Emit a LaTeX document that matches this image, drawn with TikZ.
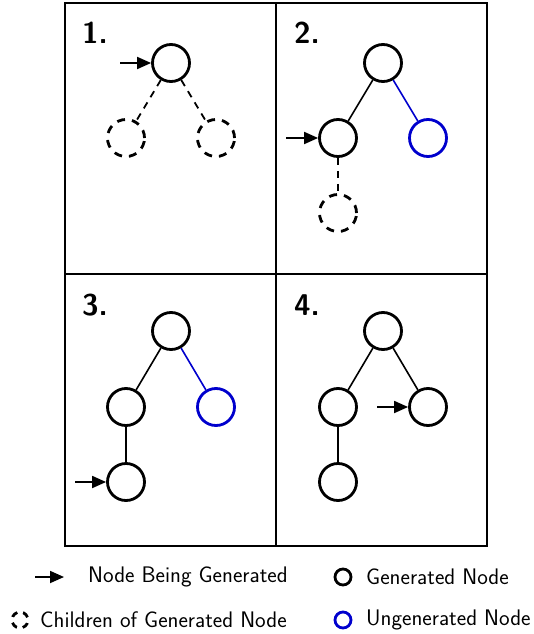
\documentclass[tikz,border=0pt]{standalone}
\usepackage{fontspec}
\usetikzlibrary{arrows.meta}
\definecolor{ublue}{RGB}{0,0,205}
\tikzset{
  gen/.style={circle, draw=black, line width=2.8pt, minimum size=37pt, inner sep=0pt},
  ungen/.style={gen, draw=ublue},
  kid/.style={gen, dash pattern=on 8pt off 7pt},
  lgen/.style={circle, draw=black, line width=2.8pt, minimum size=16pt, inner sep=0pt},
  lungen/.style={lgen, draw=ublue},
  lkid/.style={lgen, dash pattern=on 6.5pt off 6pt},
  tie/.style={line width=1.6pt},
  utie/.style={tie, draw=ublue},
  dtie/.style={tie, line width=1.8pt, dash pattern=on 7pt off 6pt},
  ptr/.style={line width=1.8pt, -{Triangle[length=14pt,width=12pt]}},
  frame/.style={line width=1.4pt},
  plabel/.style={anchor=base west, inner sep=0pt, font=\sffamily\bfseries\fontsize{30}{36}\selectfont},
  ltext/.style={anchor=west, inner sep=0pt, font=\sffamily\fontsize{22.5}{27}\selectfont},
}
\begin{document}
\begin{tikzpicture}[x=1pt,y=-1pt]
\useasboundingbox (0,0) rectangle (533,634);

% frame with four panels
\draw[frame] (65,3) rectangle (487,546);
\draw[frame] (276,3) -- (276,546);
\draw[frame] (65,274) -- (487,274);

% panel 1
\node[plabel] (l1) at (82,44) {1.};
\node[gen] (a0) at (171,63) {};
\node[kid] (a1) at (126,138) {};
\node[kid] (a2) at (216,138) {};
\draw[dtie] (a0) -- (a1);
\draw[dtie] (a0) -- (a2);
\coordinate (ap) at (120,63);
\draw[ptr] (ap) -- (a0);

% panel 2
\node[plabel] (l2) at (294,44) {2.};
\node[gen] (b0) at (383,63) {};
\node[gen] (b1) at (338,138) {};
\node[ungen] (b2) at (428,138) {};
\node[kid] (b3) at (338,213) {};
\draw[tie] (b0) -- (b1);
\draw[utie] (b0) -- (b2);
\draw[dtie] (b1) -- (b3);
\coordinate (bp) at (286,138);
\draw[ptr] (bp) -- (b1);

% panel 3
\node[plabel] (l3) at (82,315) {3.};
\node[gen] (c0) at (171,331) {};
\node[gen] (c1) at (126,407) {};
\node[ungen] (c2) at (216,407) {};
\node[gen] (c3) at (126,482) {};
\draw[tie] (c0) -- (c1);
\draw[utie] (c0) -- (c2);
\draw[tie] (c1) -- (c3);
\coordinate (cp) at (75,482);
\draw[ptr] (cp) -- (c3);

% panel 4
\node[plabel] (l4) at (294,315) {4.};
\node[gen] (d0) at (383,331) {};
\node[gen] (d1) at (338,407) {};
\node[gen] (d2) at (428,407) {};
\node[gen] (d3) at (338,482) {};
\draw[tie] (d0) -- (d1);
\draw[tie] (d0) -- (d2);
\draw[tie] (d1) -- (d3);
\coordinate (dp) at (377,407);
\draw[ptr] (dp) -- (d2);

% legend
\coordinate (k1s) at (35,577);
\coordinate (k1e) at (64,577);
\draw[ptr] (k1s) -- (k1e);
\node[ltext] (t1) at (88,577) {Node Being Generated};
\node[lkid, rotate=20] (k2) at (20,620) {};
\node[ltext] (t2) at (40,620) {Children of Generated Node};
\node[lgen] (k3) at (343,577) {};
\node[ltext] (t3) at (366,577) {Generated Node};
\node[lungen] (k4) at (343,620) {};
\node[ltext] (t4) at (366,620) {Ungenerated Node};
\end{tikzpicture}
\end{document}
